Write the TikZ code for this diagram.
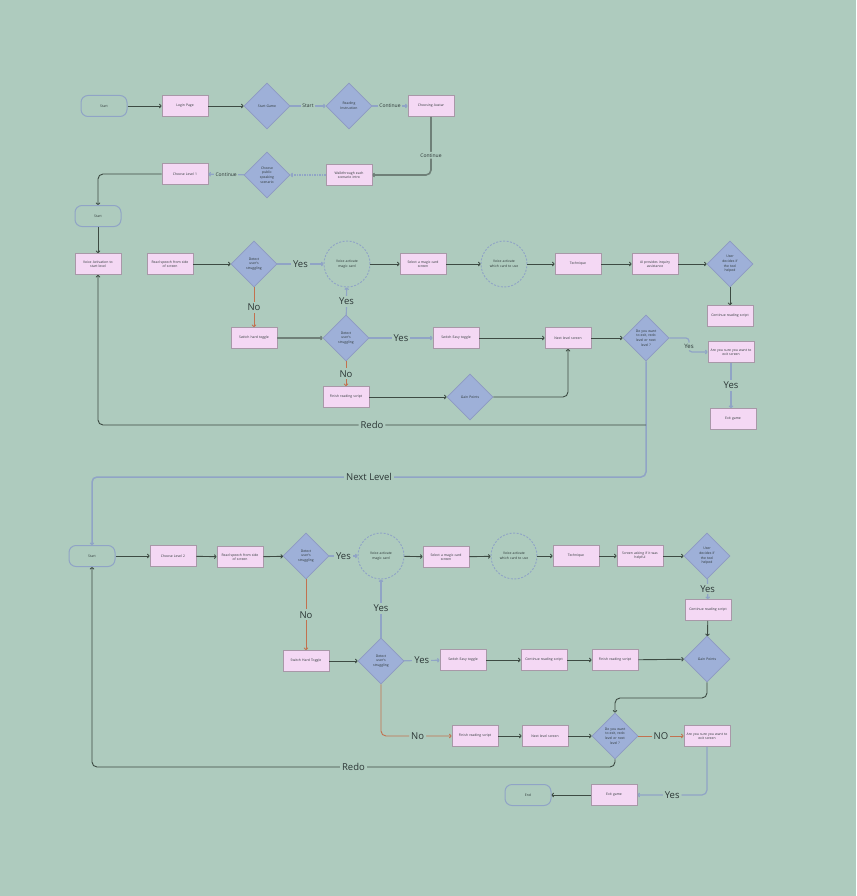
\documentclass[tikz,border=0pt]{standalone}
\usepackage{fontspec}
\setmainfont{Open Sans}
\usetikzlibrary{shapes.geometric,arrows.meta}
\definecolor{bg}{HTML}{AECBBE}
\definecolor{pinkfill}{HTML}{F4D8F4}
\definecolor{pinkline}{HTML}{A898A8}
\definecolor{diafill}{HTML}{9EB0D8}
\definecolor{dialine}{HTML}{8D9AC2}
\definecolor{dark}{HTML}{3D4B43}
\definecolor{grayline}{HTML}{6F8078}
\definecolor{blueline}{HTML}{90A4C6}
\definecolor{orangeline}{HTML}{C2714F}
\definecolor{txt}{HTML}{2B3535}
\tikzset{
  box/.style={rectangle, draw=pinkline, fill=pinkfill, line width=0.9pt, minimum width=46, minimum height=21, inner sep=0.5pt, text width=42, align=center, font=\fontsize{3.4}{4.2}\selectfont, text=txt},
  dia/.style={diamond, draw=dialine, fill=diafill, line width=0.8pt, minimum width=46, minimum height=46, inner sep=0pt, text width=25, align=center, font=\fontsize{3.4}{4.6}\selectfont, text=txt},
  circ/.style={circle, draw=blueline, dash pattern=on 2pt off 1.5pt, line width=0.9pt, minimum size=46, inner sep=0pt, text width=36, align=center, font=\fontsize{3.4}{4.6}\selectfont, text=txt},
  term/.style={rectangle, rounded corners=7, draw=blueline, line width=1pt, minimum width=46, minimum height=21, inner sep=0pt, font=\fontsize{3.4}{4.2}\selectfont, text=txt},
  tip/.style={-{To[length=2.5pt,width=4.5pt]}},
  dk/.style={tip, draw=dark, line width=0.9pt},
  gry/.style={tip, draw=grayline, line width=1.6pt},
  bl/.style={tip, draw=blueline, line width=1.2pt},
  bld/.style={tip, draw=blueline, line width=1.2pt, dash pattern=on 1.5pt off 1pt},
  orl/.style={tip, draw=orangeline, line width=0.9pt},
  lbl/.style={fill=bg, inner sep=1.5pt, font=\fontsize{5}{6}\selectfont, text=txt},
  big/.style={fill=bg, inner sep=2pt, font=\fontsize{9.5}{11}\selectfont, text=txt}
}
\begin{document}
\begin{tikzpicture}[x=1pt,y=-1pt]
\useasboundingbox[fill=bg] (0,0) rectangle (856,896);

% ---- row 1
\node[term] (s1) at (104,106) {Start};
\node[box] (login) at (185,106) {Login Page};
\node[dia] (sg) at (267,106) {Start Game};
\node[dia] (ri) at (349,106) {Reading\\Instruction};
\node[box] (ca) at (431,106) {Choosing Avatar};
\node[box] (wt) at (349,175) {Walkthrough each\\scenario intro};
\node[dia] (cp) at (267,175) {Choose\\public\\speaking\\scenario};
\node[box] (cl1) at (185,174) {Choose Level 1};
\node[term] (s2) at (98,216) {Start};

\draw[dk] (s1) -- (login);
\draw[dk] (login) -- (sg);
\draw[bl] (sg) -- node[lbl]{Start} (ri);
\draw[bl] (ri) -- node[lbl]{Continue} (ca);
\draw[gry, rounded corners=5] (ca.south) |- node[lbl, pos=0.33]{Continue} (wt.east);
\draw[bld] (wt) -- (cp);
\draw[bl] (cp) -- node[lbl]{Continue} (cl1);
\draw[dk, rounded corners=5] (cl1.west) -| (s2.north);

% ---- level 1
\node[box] (va) at (98,264) {Voice Activation to\\start level};
\node[box] (rs1) at (170,264) {Read speech from side\\of screen};
\node[dia] (d1) at (254,264) {Detect\\user's\\struggling};
\node[circ] (c1) at (347,264) {Voice activate\\magic card};
\node[box] (sm1) at (423,264) {Select a magic card\\screen};
\node[circ] (c2) at (504,264) {Voice activate\\which card to use};
\node[box] (t1) at (578,264) {Technique};
\node[box] (ai) at (655,264) {AI provides inquiry\\assistance};
\node[dia] (ud1) at (730,264) {User\\decides if\\the tool\\helped};
\node[box] (cr1) at (730,316) {Continue reading script};
\node[box] (sh1) at (254,338) {Switch hard toggle};
\node[dia] (d2) at (346,338) {Detect\\user's\\struggling};
\node[box] (se1) at (456,338) {Switch Easy toggle};
\node[box] (nl1) at (568,338) {Next level screen};
\node[dia] (ex1) at (646,338) {Do you want\\to exit, redo\\level or next\\level ?};
\node[box] (as1) at (731,352) {Are you sure you want to\\exit screen};
\node[box] (eg1) at (733,419) {Exit game};
\node[box] (fr1) at (346,397) {Finish reading script};
\node[dia] (gp1) at (470,397) {Gain Points};
\node[term] (s3) at (92,556) {Start};
\coordinate (yj1) at (689,338);
\coordinate (redo1) at (646,425);
\coordinate (next1) at (646,477);

\draw[dk] (s2) -- (va);
\draw[dk] (rs1) -- (d1);
\draw[bl] (d1) -- node[big]{Yes} (c1);
\draw[dk] (c1) -- (sm1);
\draw[dk] (sm1) -- (c2);
\draw[dk] (c2) -- (t1);
\draw[dk] (t1) -- (ai);
\draw[dk] (ai) -- (ud1);
\draw[dk] (ud1) -- (cr1);
\draw[orl] (d1) -- node[big]{No} (sh1);
\draw[gry] (sh1) -- (d2);
\draw[bl] (d2) -- node[big]{Yes} (c1);
\draw[bl] (d2) -- node[big]{Yes} (se1);
\draw[dk] (se1) -- (nl1);
\draw[dk] (nl1) -- (ex1);
\draw[bl, rounded corners=3] (ex1.east) -- (yj1) |- node[lbl, pos=0.3, font=\fontsize{6}{7}\selectfont]{Yes} (as1.west);
\draw[bl] (as1.south) -- node[big]{Yes} (as1.south |- eg1.north);
\draw[orl] (d2) -- node[big]{No} (fr1);
\draw[dk] (fr1) -- (gp1);
\draw[dk, rounded corners=5] (gp1.east) -| (nl1.south);
\draw[bl, line width=1.5pt, rounded corners=5] (ex1.south) -- (next1) -| node[big, pos=0.25]{Next Level} (s3.north);
\draw[dk, rounded corners=5] (redo1) -| node[big, pos=0.25]{Redo} (va.south);

% ---- level 2
\node[box] (cl2) at (173,556) {Choose Level 2};
\node[box] (rs2) at (240,557) {Read speech from side\\of screen};
\node[dia] (d3) at (306,556) {Detect\\user's\\struggling};
\node[circ] (c3) at (381,556) {Voice activate\\magic card};
\node[box] (sm2) at (446,557) {Select a magic card\\screen};
\node[circ] (c4) at (514,556) {Voice activate\\which card to use};
\node[box] (t2) at (576,556) {Technique};
\node[box] (sa) at (640,556) {Screen asking if it was\\helpful};
\node[dia] (ud2) at (707,556) {User\\decides if\\the tool\\helped};
\node[box] (cr2) at (708,610) {Continue reading script};
\node[dia] (gp2) at (707,659) {Gain Points};
\node[box] (sh2) at (306,661) {Switch Hard Toggle};
\node[dia] (d4) at (381,661) {Detect\\user's\\struggling};
\node[box] (se2) at (463,660) {Switch Easy toggle};
\node[box] (cr3) at (544,660) {Continue reading script};
\node[box] (fr2) at (615,660) {Finish reading script};
\node[dia] (ex2) at (615,736) {Do you want\\to exit, redo\\level or next\\level ?};
\node[box] (fr3) at (475,736) {Finish reading script};
\node[box] (nl2) at (545,736) {Next level screen};
\node[box] (as2) at (707,736) {Are you sure you want to\\exit screen};
\node[box] (eg2) at (614,795) {Exit game};
\node[term] (end) at (528,795) {End};
\coordinate (gpj) at (707,698);
\coordinate (redo2) at (615,767);

\draw[dk] (s3) -- (cl2);
\draw[dk] (cl2) -- (rs2);
\draw[dk] (rs2) -- (d3);
\draw[bl] (d3) -- node[big]{Yes} (c3);
\draw[dk] (c3) -- (sm2);
\draw[dk] (sm2) -- (c4);
\draw[dk] (c4) -- (t2);
\draw[dk] (t2) -- (sa);
\draw[dk] (sa) -- (ud2);
\draw[bl] (ud2) -- node[big]{Yes} (cr2);
\draw[dk] (cr2) -- (gp2);
\draw[orl] (d3) -- node[big]{No} (sh2);
\draw[dk] (sh2) -- (d4);
\draw[bl] (d4) -- node[big]{Yes} (c3);
\draw[bl] (d4) -- node[big]{Yes} (se2);
\draw[dk] (se2) -- (cr3);
\draw[dk] (cr3) -- (fr2);
\draw[dk] (fr2) -- (gp2);
\draw[dk, rounded corners=5] (gp2.south) -- (gpj) -| (ex2.north);
\draw[orl, rounded corners=5] (d4.south) |- node[big, pos=0.76]{No} (fr3.west);
\draw[dk] (fr3) -- (nl2);
\draw[dk] (nl2) -- (ex2);
\draw[orl] (ex2) -- node[big]{NO} (as2);
\draw[bl, rounded corners=5] (as2.south) |- node[big, pos=0.75]{Yes} (eg2.east);
\draw[dk] (eg2) -- (end);
\draw[dk, rounded corners=5] (ex2.south) -- (redo2) -| node[big, pos=0.25]{Redo} (s3.south);
\end{tikzpicture}
\end{document}
